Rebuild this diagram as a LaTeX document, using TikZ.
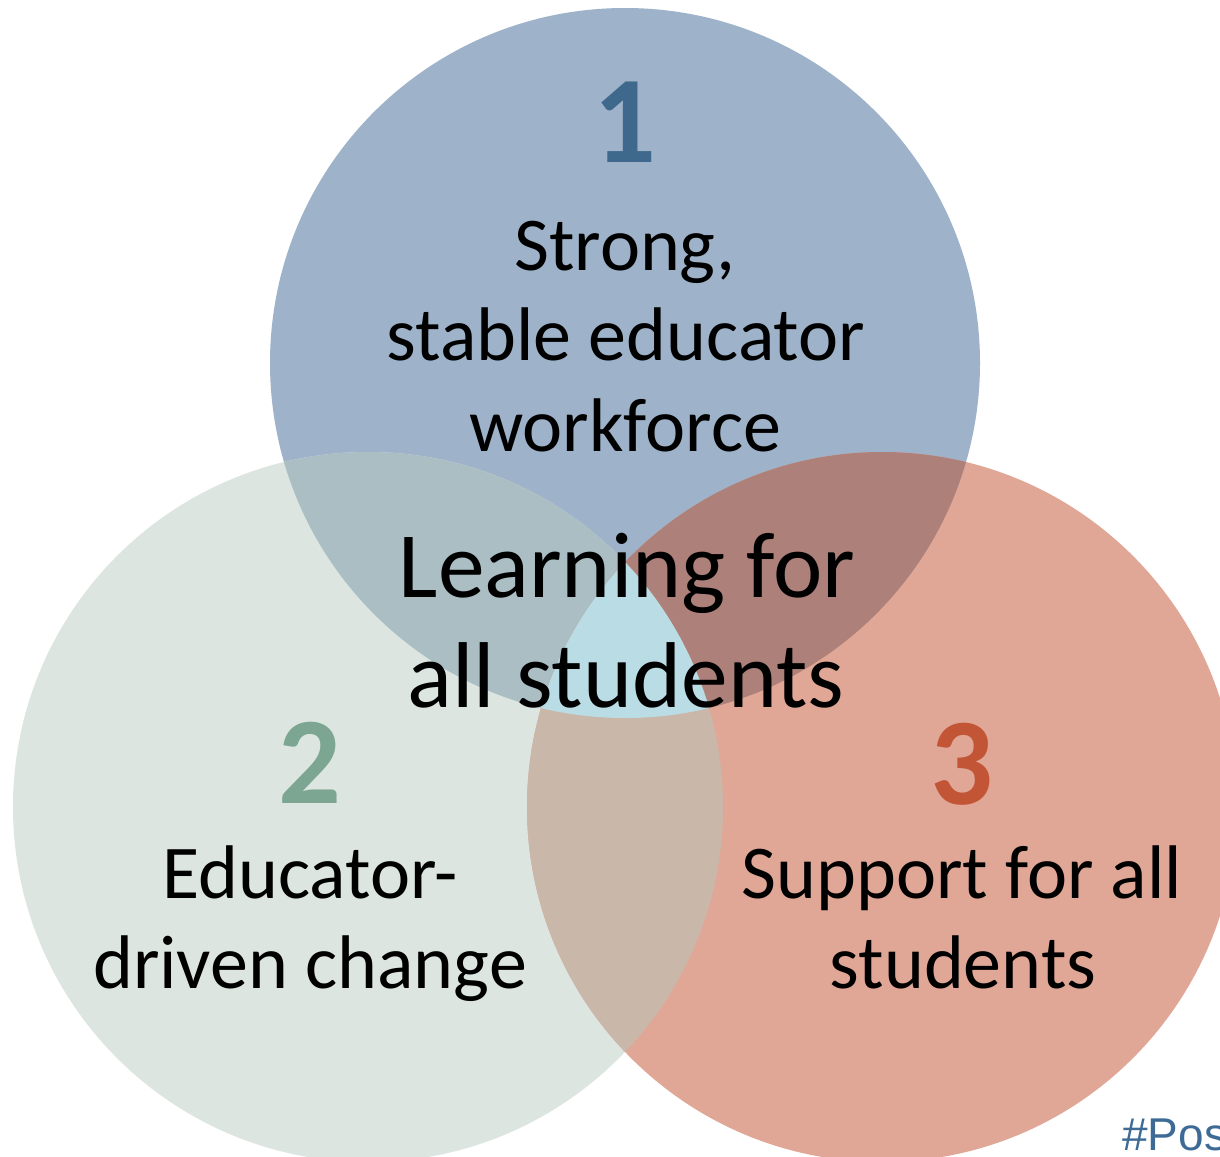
\documentclass[tikz,border=0pt]{standalone}
\usepackage{fontspec}
\setmainfont{Carlito}
\newfontfamily\tagfont{Liberation Sans}
\definecolor{cA}{RGB}{158,179,201}
\definecolor{cB}{RGB}{220,229,224}
\definecolor{cC}{RGB}{224,167,151}
\definecolor{cAB}{RGB}{170,190,195}
\definecolor{cAC}{RGB}{173,129,122}
\definecolor{cBC}{RGB}{201,184,170}
\definecolor{cABC}{RGB}{186,221,229}
\definecolor{nA}{RGB}{62,104,140}
\definecolor{nB}{RGB}{125,166,146}
\definecolor{nC}{RGB}{195,85,55}
\definecolor{tagc}{RGB}{62,107,150}
\tikzset{
  numtxt/.style={anchor=base, inner sep=0pt, font=\fontsize{124}{124}\selectfont\bfseries},
  bodytxt/.style={anchor=base, inner sep=0pt, font=\fontsize{76}{90}\selectfont},
  bigtxt/.style={anchor=base, inner sep=0pt, font=\fontsize{93.5}{110}\selectfont},
}
\begin{document}
\begin{tikzpicture}[x=1pt,y=-1pt]
\useasboundingbox (0,0) rectangle (1220,1156);
\fill[white] (0,0) rectangle (1220,1156);
\coordinate (c1) at (625,363);
\coordinate (c2) at (368,807);
\coordinate (c3) at (882,807);
% single circles
\fill[cA] (c1) circle (355pt);
\fill[cB] (c2) circle (355pt);
\fill[cC] (c3) circle (355pt);
% pairwise overlaps
\begin{scope}
  \clip (c1) circle (355pt);
  \fill[cAB] (c2) circle (355pt);
\end{scope}
\begin{scope}
  \clip (c1) circle (355pt);
  \fill[cAC] (c3) circle (355pt);
\end{scope}
\begin{scope}
  \clip (c2) circle (355pt);
  \fill[cBC] (c3) circle (355pt);
\end{scope}
% triple overlap
\begin{scope}
  \clip (c1) circle (355pt);
  \clip (c2) circle (355pt);
  \fill[cABC] (c3) circle (355pt);
\end{scope}
% numbers
\node[numtxt, text=nA] (n1) at (625,162) {1};
\node[numtxt, text=nB] (n2) at (310,803) {2};
\node[numtxt, text=nC] (n3) at (962,804) {3};
% circle 1 text
\node[bodytxt] (t1a) at (625,270) {Strong,};
\node[bodytxt] (t1b) at (626,360) {stable educator};
\node[bodytxt] (t1c) at (625,451) {workforce};
% centre text
\node[bigtxt] (tca) at (627,597) {Learning for};
\node[bigtxt] (tcb) at (626,707) {all students};
% circle 2 text
\node[bodytxt] (t2a) at (310,898) {Educator-};
\node[bodytxt] (t2b) at (310,988) {driven change};
% circle 3 text
\node[bodytxt] (t3a) at (962,898) {Support for all};
\node[bodytxt] (t3b) at (963,988) {students};
% hashtag
\node[anchor=base west, inner sep=0pt, text=tagc, font=\tagfont\fontsize{46}{56}\selectfont] (tag) at (1122,1150) {\#Pos};
\end{tikzpicture}
\end{document}
